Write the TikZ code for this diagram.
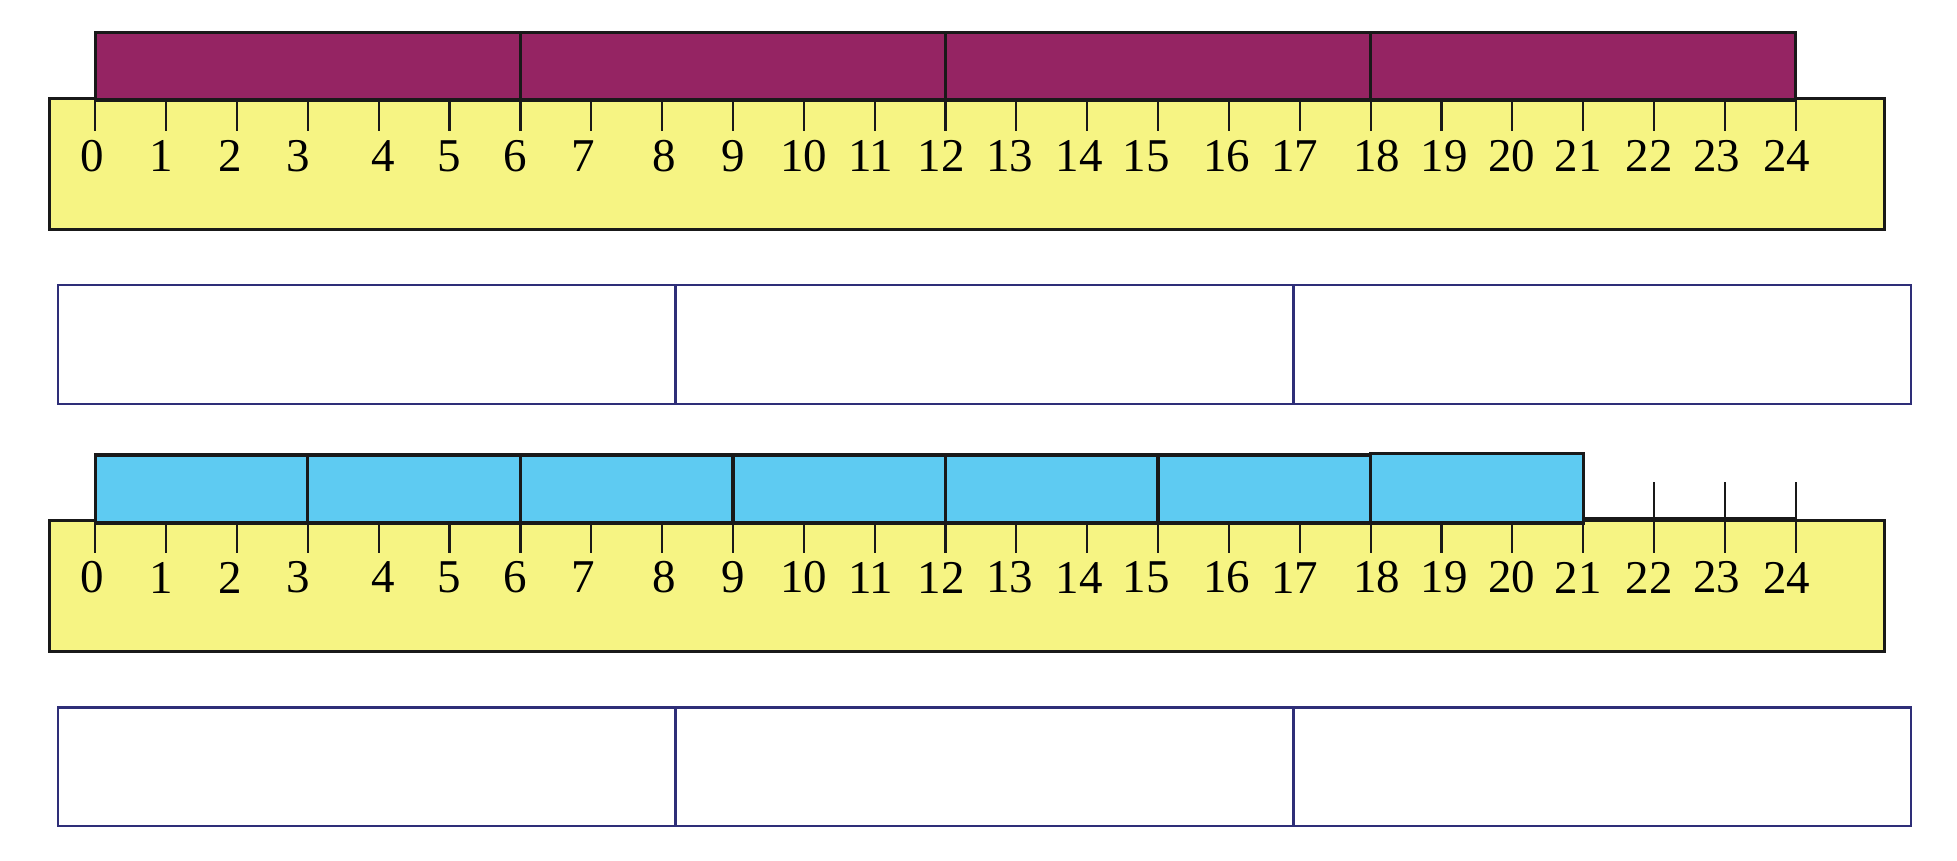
\documentclass[tikz,border=0pt]{standalone}
\usepackage{fontspec}
\setmainfont{Liberation Serif}
\definecolor{barpurple}{RGB}{149,36,99}
\definecolor{ruleryellow}{RGB}{246,244,131}
\definecolor{barblue}{RGB}{94,203,242}
\definecolor{boxnavy}{RGB}{46,46,120}
\tikzset{
  ruler/.style={fill=ruleryellow,draw=black!90,line width=3pt},
  purplebar/.style={fill=barpurple,draw=black!90,line width=3.2pt},
  bluebar/.style={fill=barblue,draw=black!90,line width=3.2pt},
  tickline/.style={draw=black!90,line width=2.2pt},
  answerbox/.style={draw=boxnavy,line width=2.5pt},
  numlabel/.style={inner sep=0pt,font=\fontsize{47}{47}\selectfont}
}
\newcommand{\labelshifts}{0/-3.2,1/-4.8,2/-6.8,3/-9.5,4/4.4,5/-0.8,6/-4.8,7/-7.8,8/2.4,9/0.7,10/0,11/-3.9,12/-4.4,13/-6.7,14/-8,15/-11.8,16/-2,17/-5.2,18/5.9,19/2.8,20/-0.4,21/-5.1,22/-4.7,23/-8.3,24/-9.1}
\begin{document}
\begin{tikzpicture}[x=1pt,y=-1pt]
\useasboundingbox (0,0) rectangle (1957,861);
\def\xo{95.3}
\def\un{70.85}
% ---------- first ruler ----------
\draw[ruler] (49,98.7) rectangle (1884,230);
\draw[purplebar] (\xo,32.3) rectangle ({\xo+24*\un},100);
\foreach \k in {6,12,18}
  \draw[line width=3.2pt,black!90] ({\xo+\k*\un},32.3) -- ({\xo+\k*\un},100);
\foreach \k in {0,...,24}
  \draw[tickline] ({\xo+\k*\un},100) -- ({\xo+\k*\un},131);
\foreach \k/\d in \labelshifts
  \node[numlabel] (a\k) at ({\xo+\k*\un+\d},156) {\k};
% ---------- first answer box ----------
\draw[answerbox] (58,285) rectangle (1911,404);
\draw[answerbox] (675.7,285) -- (675.7,404);
\draw[answerbox] (1293.3,285) -- (1293.3,404);
% ---------- second ruler ----------
\draw[ruler] (49,520.5) rectangle (1884,651.7);
\draw[bluebar] (\xo,455) rectangle ({\xo+18*\un},523);
\foreach \k in {3,6,...,15}
  \draw[line width=3.2pt,black!90] ({\xo+\k*\un},455) -- ({\xo+\k*\un},523);
\draw[bluebar] ({\xo+18*\un},453.3) rectangle ({\xo+21*\un},523);
\draw[line width=3.2pt,black!90] ({\xo+21*\un},518.5) -- ({\xo+24*\un},518.5);
\foreach \k in {22,23,24}
  \draw[tickline] ({\xo+\k*\un},482.3) -- ({\xo+\k*\un},523);
\foreach \k in {0,...,24}
  \draw[tickline] ({\xo+\k*\un},523) -- ({\xo+\k*\un},552.7);
\foreach \k/\d in \labelshifts
  \node[numlabel] (b\k) at ({\xo+\k*\un+\d},577.5) {\k};
% ---------- second answer box ----------
\draw[answerbox] (58,707.3) rectangle (1911,826);
\draw[answerbox] (675.7,707.3) -- (675.7,826);
\draw[answerbox] (1293.3,707.3) -- (1293.3,826);
\end{tikzpicture}
\end{document}
